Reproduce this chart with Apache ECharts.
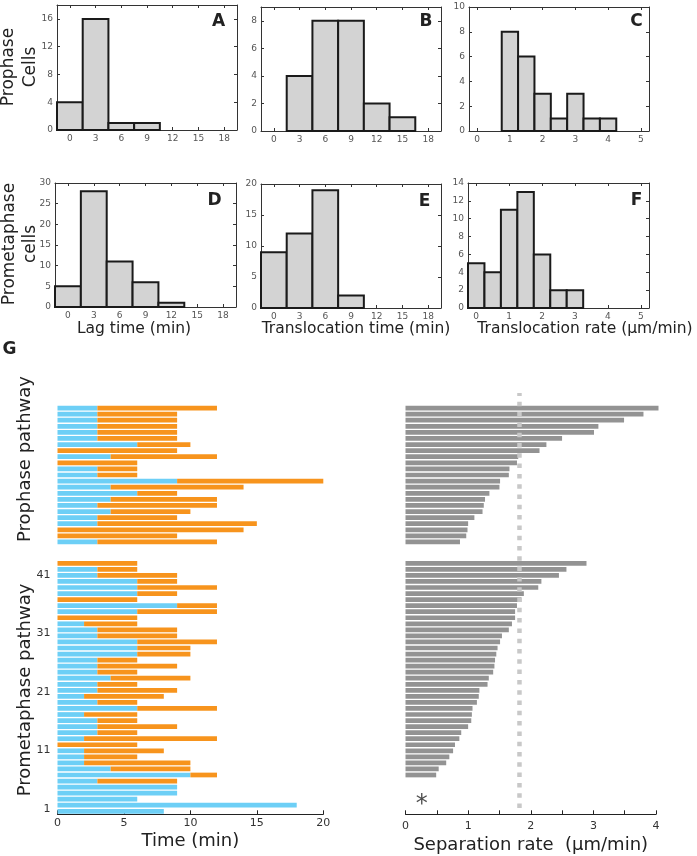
<!DOCTYPE html>
<html><head><meta charset="utf-8">
<script src="https://cdn.jsdelivr.net/npm/echarts@6/dist/echarts.min.js"></script>
<style>html,body{margin:0;padding:0;background:#fff}#c{width:697px;height:856px}</style>
</head><body><div id="c"></div>
<script>
// ---------- Histogram data (panels A-F) ----------
const timeTicks = [0,3,6,9,12,15,18];
const rateTicks = [0,1,2,3,4,5];
const lagBinWidth = 3;
const rateBinWidth = 0.5;

const prophaseLagBins = [0,3,6,9];
const prophaseLagCounts = [4,16,1,1];
const prophaseTransBins = [3,6,9,12,15];
const prophaseTransCounts = [4,8,8,2,1];
const prophaseRateBins = [1,1.5,2,2.5,3,3.5,4];
const prophaseRateCounts = [8,6,3,1,3,1,1];

const prometaLagBins = [0,3,6,9,12];
const prometaLagCounts = [5,28,11,6,1];
const prometaTransBins = [0,3,6,9];
const prometaTransCounts = [9,12,19,2];
const prometaRateBins = [0,0.5,1,1.5,2,2.5,3];
const prometaRateCounts = [5,4,11,13,6,2,2];

const yTicksA = [0,4,8,12,16];
const yTicksB = [0,2,4,6,8];
const yTicksC = [0,2,4,6,8,10];
const yTicksD = [0,5,10,15,20,25,30];
const yTicksE = [0,5,10,15,20];
const yTicksF = [0,2,4,6,8,10,12,14];

// ---------- Panel G data (top to bottom) ----------
const prophaseCellLag   = [3,3,3,3,3,3,6,0,4,0,3,3,9,4,6,4,3,4,3,3,0,0,3];
const prophaseCellTotal = [12,9,9,9,9,9,10,9,12,6,6,6,21,14,9,12,12,10,9,15,14,9,12];

const prometaCellLag   = [0,3,3,6,6,6,0,9,6,0,2,3,3,6,6,6,3,3,3,4,3,3,2,3,6,2,3,3,3,2,0,2,2,2,4,10,3,9,9,6,18,8];
const prometaCellTotal = [6,6,9,9,12,9,6,12,12,6,6,9,9,12,10,10,6,9,6,10,6,9,8,6,12,6,6,9,6,12,6,8,6,10,10,12,9,9,9,6,18,8];
const prometaTickLabels = [1,11,21,31,41];
const timeAxisTicks = [0,5,10,15,20];

const prophaseSepRate = [4.04,3.80,3.49,3.08,3.01,2.50,2.25,2.14,1.80,1.78,1.66,1.65,1.51,1.50,1.34,1.27,1.25,1.23,1.10,1.00,0.99,0.97,0.87];
const prometaSepRate = [2.89,2.57,2.45,2.17,2.12,1.89,1.85,1.78,1.75,1.75,1.70,1.65,1.54,1.51,1.47,1.45,1.43,1.42,1.40,1.33,1.31,1.18,1.17,1.14,1.07,1.06,1.05,1.00,0.89,0.86,0.79,0.76,0.70,0.65,0.53,0.49];
const sepThreshold = 1.82;
const sepTicks = [0,0.5,1,1.5,2,2.5,3,3.5,4];
const sepLabels = [0,1,2,3,4];
const asteriskPos = [0.26, 40];

const FONT = 'DejaVu Sans';
const BLUE = '#6dcff6', ORANGE = '#f7941d', GRAY = '#939393';

const grids=[], xAxes=[], yAxes=[], series=[], graphics=[];
function addGrid(g){ grids.push(g); return grids.length-1; }
function addX(a){ xAxes.push(a); return xAxes.length-1; }
function addY(a){ yAxes.push(a); return yAxes.length-1; }

function histItem(params, api){
  const c = api.value(0), n = api.value(1), w = api.value(2);
  const p0 = api.coord([c - w/2, n]);
  const p1 = api.coord([c + w/2, 0]);
  return {type:'rect', shape:{x:p0[0], y:p0[1], width:p1[0]-p0[0], height:p1[1]-p0[1]},
          style:{fill:'#d3d3d3', stroke:'#1a1a1a', lineWidth:2}};
}

function hist(box, xr, xt, ymax, yt, bins, counts, w){
  const gi = addGrid({left:box[0], top:box[1], width:box[2]-box[0], height:box[3]-box[1]});
  const line = {show:true, onZero:false, lineStyle:{color:'#333', width:1}};
  const tick = (vals)=>({show:true, inside:true, length:3, customValues:vals, lineStyle:{color:'#333'}});
  const xi = addX({type:'value', gridIndex:gi, min:xr[0], max:xr[1], position:'bottom', axisLine:line,
    axisTick:tick(xt), axisLabel:{customValues:xt, fontSize:9, color:'#555', margin:4, fontFamily:FONT}, splitLine:{show:false}});
  addX({type:'value', gridIndex:gi, min:xr[0], max:xr[1], position:'top', axisLine:line,
    axisTick:tick(xt), axisLabel:{show:false}, splitLine:{show:false}});
  const yi = addY({type:'value', gridIndex:gi, min:0, max:ymax, position:'left', axisLine:line,
    axisTick:tick(yt), axisLabel:{customValues:yt, fontSize:9, color:'#555', margin:4, fontFamily:FONT}, splitLine:{show:false}});
  addY({type:'value', gridIndex:gi, min:0, max:ymax, position:'right', axisLine:line,
    axisTick:tick(yt), axisLabel:{show:false}, splitLine:{show:false}});
  series.push({type:'custom', xAxisIndex:xi, yAxisIndex:yi, renderItem:histItem, encode:{x:0,y:1},
    data: bins.map((b,i)=>[b, counts[i], w]), z:2});
}

hist([57,5,237,130],   [-1.5,19.5], timeTicks, 18, yTicksA, prophaseLagBins, prophaseLagCounts, lagBinWidth);
hist([261,7,441,131],  [-1.5,19.5], timeTicks, 9,  yTicksB, prophaseTransBins, prophaseTransCounts, lagBinWidth);
hist([469,7,649,131],  [-0.25,5.25], rateTicks, 10, yTicksC, prophaseRateBins, prophaseRateCounts, rateBinWidth);
hist([55,183,236,307], [-1.5,19.5], timeTicks, 30, yTicksD, prometaLagBins, prometaLagCounts, lagBinWidth);
hist([261,184,441,308],[-1.5,19.5], timeTicks, 20, yTicksE, prometaTransBins, prometaTransCounts, lagBinWidth);
hist([468,183,649,308],[-0.25,5.25], rateTicks, 14, yTicksF, prometaRateBins, prometaRateCounts, rateBinWidth);

// ---------- Panel G left ----------
function stackedBars(xi, yi, lag, total, key){
  series.push({type:'bar', xAxisIndex:xi, yAxisIndex:yi, stack:key, data:lag, barCategoryGap:'22%',
    itemStyle:{color:BLUE}, silent:true});
  series.push({type:'bar', xAxisIndex:xi, yAxisIndex:yi, stack:key, data:total.map((t,i)=>t-lag[i]), barCategoryGap:'22%',
    itemStyle:{color:ORANGE}, silent:true});
}
const gLP = addGrid({left:57.5, right:373.7, top:405, height:140});
const xLP = addX({type:'value', gridIndex:gLP, min:0, max:20, show:false});
const yLP = addY({type:'category', gridIndex:gLP, inverse:true, show:false, data:prophaseCellLag.map((_,i)=>String(i+1))});
stackedBars(xLP, yLP, prophaseCellLag, prophaseCellTotal, 'pro');

const gLM = addGrid({left:57.5, right:373.7, top:560.3, height:254});
const xLM = addX({type:'value', gridIndex:gLM, min:0, max:20, position:'bottom',
  axisLine:{show:true, onZero:false, lineStyle:{color:'#222', width:1}},
  axisTick:{show:true, inside:true, length:4, customValues:timeAxisTicks, lineStyle:{color:'#222'}},
  axisLabel:{customValues:timeAxisTicks, fontSize:11, color:'#333', margin:3, fontFamily:FONT},
  splitLine:{show:false},
  name:'Time (min)', nameLocation:'middle', nameGap:18,
  nameTextStyle:{fontSize:18, color:'#222', fontFamily:FONT, verticalAlign:'top'}});
const yLM = addY({type:'category', gridIndex:gLM, inverse:true, show:false,
  data:prometaCellLag.map((_,i)=>String(prometaCellLag.length-i))});
addY({type:'value', gridIndex:gLM, min:0.1, max:43.5, position:'left',
  axisLine:{show:false}, axisTick:{show:false}, splitLine:{show:false},
  axisLabel:{customValues:prometaTickLabels, fontSize:11, color:'#333', margin:7, fontFamily:FONT}});
stackedBars(xLM, yLM, prometaCellLag, prometaCellTotal, 'prm');

// ---------- Panel G right ----------
const gRP = addGrid({left:405.5, right:41, top:405, height:140});
const xRP = addX({type:'value', gridIndex:gRP, min:0, max:4, show:false});
const yRP = addY({type:'category', gridIndex:gRP, inverse:true, show:false, data:prophaseSepRate.map((_,i)=>String(i+1))});
series.push({type:'bar', xAxisIndex:xRP, yAxisIndex:yRP, data:prophaseSepRate, barCategoryGap:'22%', clip:false,
  itemStyle:{color:GRAY}, silent:true});

const gRM = addGrid({left:405.5, right:41, top:560.3, height:254});
const xRM = addX({type:'value', gridIndex:gRM, min:0, max:4, position:'bottom',
  axisLine:{show:true, onZero:false, lineStyle:{color:'#222', width:1}},
  axisTick:{show:true, inside:true, length:4, customValues:sepTicks, lineStyle:{color:'#222'}},
  axisLabel:{customValues:sepLabels, fontSize:11, color:'#333', margin:6, fontFamily:FONT},
  splitLine:{show:false},
  name:'Separation rate  (\u03bcm/min)', nameLocation:'middle', nameGap:22,
  nameTextStyle:{fontSize:18, color:'#222', fontFamily:FONT, verticalAlign:'top'}});
const yRM = addY({type:'category', gridIndex:gRM, inverse:true, show:false,
  data:prometaCellLag.map((_,i)=>String(i+1))});
series.push({type:'bar', xAxisIndex:xRM, yAxisIndex:yRM,
  data:prometaCellLag.map((_,i)=> i<prometaSepRate.length ? prometaSepRate[i] : '-'),
  barCategoryGap:'22%', itemStyle:{color:GRAY}, silent:true});
series.push({type:'scatter', xAxisIndex:xRM, yAxisIndex:yRM, data:[asteriskPos], symbolSize:0, silent:true,
  label:{show:true, position:'inside', formatter:'*', fontSize:24, color:'#222', fontFamily:FONT}});

const gRD = addGrid({left:405.5, right:41, top:393, bottom:48});
const xRD = addX({type:'value', gridIndex:gRD, min:0, max:4, show:false});
const yRD = addY({type:'value', gridIndex:gRD, min:0, max:1, show:false});
series.push({type:'line', xAxisIndex:xRD, yAxisIndex:yRD, data:[[sepThreshold,0],[sepThreshold,1]],
  symbol:'none', silent:true, z:5, lineStyle:{color:'#c8c8c8', width:4.5, type:[4.5,5.8], cap:'butt'}});

// ---------- Texts ----------
function txt(x, y, text, size, opts){
  graphics.push(Object.assign({type:'text', x:x, y:y, z:10, silent:true,
    style:{text:text, fontSize:size, fontFamily:FONT, fill:'#222', align:'center', verticalAlign:'middle'}}, opts||{}));
}
const R = Math.PI/2;
txt(20, 67, 'Prophase\nCells', 17, {rotation:R});
graphics[graphics.length-1].style.lineHeight = 22;
txt(20, 244, 'Prometaphase\ncells', 17, {rotation:R});
graphics[graphics.length-1].style.lineHeight = 21;
[['A',218.5,22],['B',426,22],['C',636.5,22],['D',214.5,201],['E',424.5,201.5],['F',636.5,201],['G',9.5,350]]
  .forEach(l=>{ txt(l[1], l[2], l[0], 17); graphics[graphics.length-1].style.fontWeight='bold'; });
txt(134, 329, 'Lag time (min)', 15.5);
txt(356, 329, 'Translocation time (min)', 15.5);
txt(585, 329, 'Translocation rate (\u03bcm/min)', 15.5);
txt(25, 459, 'Prophase pathway', 18, {rotation:R});
txt(25, 690, 'Prometaphase pathway', 18, {rotation:R});

const chart = echarts.init(document.getElementById('c'), null, {renderer:'canvas'});
chart.setOption({
  animation:false,
  backgroundColor:'#fff',
  textStyle:{fontFamily:FONT},
  grid:grids, xAxis:xAxes, yAxis:yAxes, series:series, graphic:graphics
});
</script></body></html>
